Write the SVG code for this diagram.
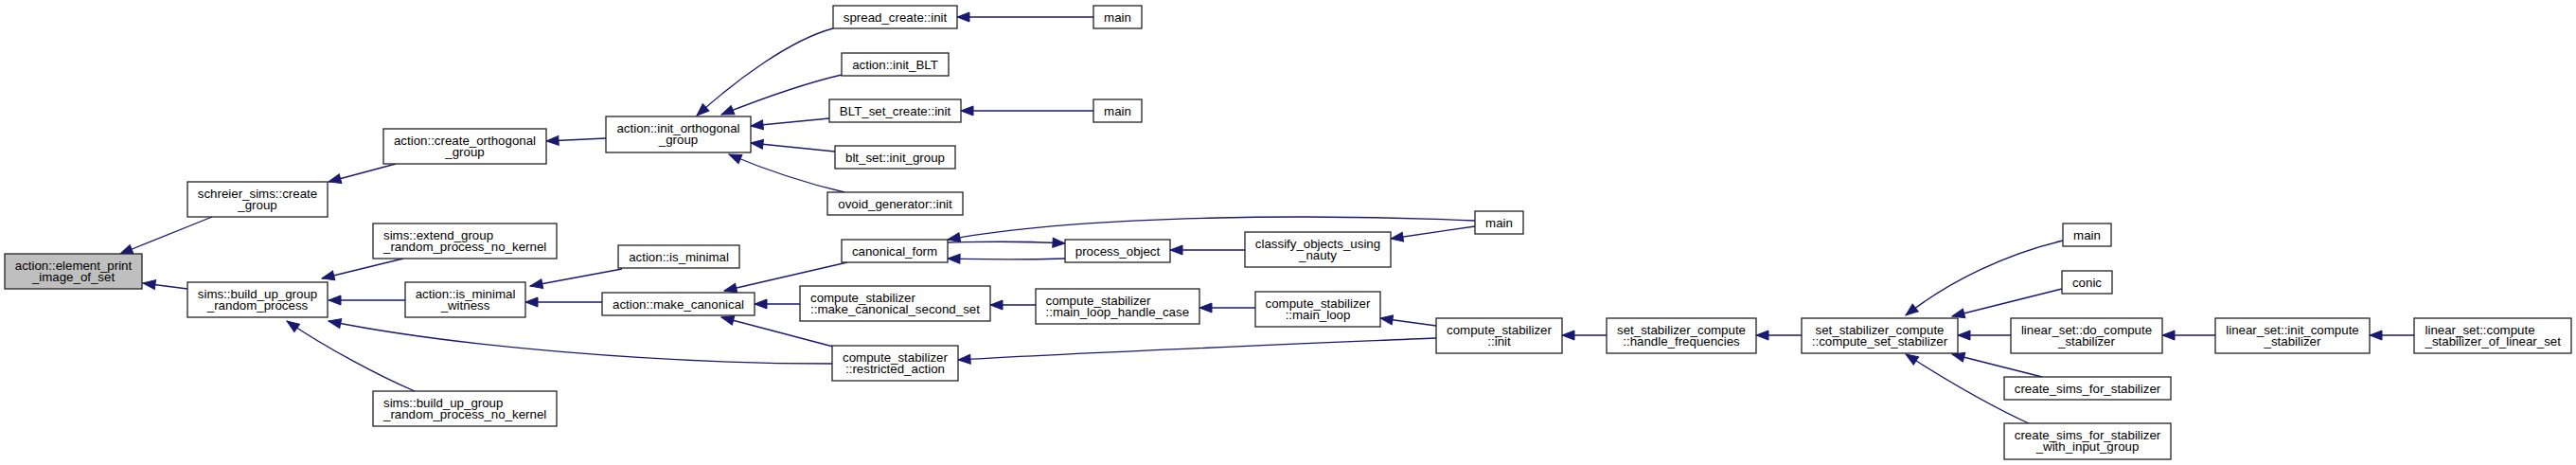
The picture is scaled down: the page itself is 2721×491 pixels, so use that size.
<svg xmlns="http://www.w3.org/2000/svg" width="2721" height="491" viewBox="0 0 2721 491">
<style>
  .n rect { fill: #ffffff; stroke: #222222; stroke-width: 1.3; }
  .root rect { fill: #bfbfbf; }
  text { font-family: "Liberation Sans", Arial, sans-serif; font-size: 13.3px; fill: #000000; }
  .c { text-anchor: middle; }
  .l { text-anchor: start; }
  #edges path { fill: none; stroke: #191970; stroke-width: 1.3; marker-end: url(#ah); }
</style>
<defs>
  <marker id="ah" markerUnits="userSpaceOnUse" viewBox="0 0 15 11" markerWidth="15" markerHeight="11" refX="13" refY="5" orient="auto" overflow="visible">
    <path d="M0,0 L13,5 L0,10 Z" fill="#191970" stroke="#191970" stroke-width="1"/>
  </marker>
</defs>
<rect x="0" y="0" width="2721" height="491" fill="#ffffff"/>
<g id="edges">
  <path d="M224,229 L127,268"/>
  <path d="M198,305 L151,299"/>
  <path d="M418,173 L347,192"/>
  <path d="M640,146 L577,149"/>
  <path d="M880,30 C835,42 778,84 736,122"/>
  <path d="M889,79 C850,88 805,104 762,121"/>
  <path d="M876,125 L793,133"/>
  <path d="M882,160 L793,151"/>
  <path d="M892,203 C858,195 815,182 770,163"/>
  <path d="M1155,18 L1011,18"/>
  <path d="M1155,117 L1015,117"/>
  <path d="M428,317 L347,317"/>
  <path d="M426,273 L340,294"/>
  <path d="M438,413 C405,399 345,368 303,339"/>
  <path d="M879,384 C700,384 480,366 347,339"/>
  <path d="M657,284 L560,302"/>
  <path d="M636,319 L555,319"/>
  <path d="M895,277 L765,307"/>
  <path d="M845,321 L797,321"/>
  <path d="M880,366 L762,335"/>
  <path d="M1001,256 C1040,255 1090,255 1125,257"/>
  <path d="M1125,273 C1090,274 1040,274 1001,273"/>
  <path d="M1558,233 C1400,226 1150,226 1001,253"/>
  <path d="M1315,264 L1236,264"/>
  <path d="M1558,239 L1469,252"/>
  <path d="M1094,322 L1046,322"/>
  <path d="M1326,325 L1267,325"/>
  <path d="M1517,344 L1458,336"/>
  <path d="M1517,357 C1350,364 1150,372 1012,380"/>
  <path d="M1697,354 L1650,354"/>
  <path d="M1903,354 L1855,354"/>
  <path d="M2179,254 C2120,268 2060,296 2013,333"/>
  <path d="M2178,305 L2062,334"/>
  <path d="M2124,354 L2068,354"/>
  <path d="M2157,398 L2062,374"/>
  <path d="M2143,447 C2110,432 2060,404 2013,374"/>
  <path d="M2340,354 L2284,354"/>
  <path d="M2550,354 L2503,354"/>
</g>
<g id="n1" class="n root"><rect x="5" y="268" width="145" height="37"/><text class="c" x="77.5" y="284.5">action::element_print</text><text class="c" x="77.5" y="297">_image_of_set</text></g>
<g id="n2" class="n"><rect x="198" y="192" width="148" height="37"/><text class="c" x="272" y="208.5">schreier_sims::create</text><text class="c" x="272" y="221">_group</text></g>
<g id="n3" class="n"><rect x="198" y="298" width="148" height="37"/><text class="c" x="272" y="314.5">sims::build_up_group</text><text class="c" x="272" y="327">_random_process</text></g>
<g id="n4" class="n"><rect x="405" y="136" width="172" height="37"/><text class="c" x="491" y="152.5">action::create_orthogonal</text><text class="c" x="491" y="165">_group</text></g>
<g id="n5" class="n"><rect x="394" y="236" width="194" height="37"/><text class="l" x="405" y="252.5">sims::extend_group</text><text class="l" x="405" y="265">_random_process_no_kernel</text></g>
<g id="n6" class="n"><rect x="394" y="413" width="194" height="37"/><text class="l" x="405" y="429.5">sims::build_up_group</text><text class="l" x="405" y="442">_random_process_no_kernel</text></g>
<g id="n7" class="n"><rect x="428" y="298" width="127" height="37"/><text class="c" x="491.5" y="314.5">action::is_minimal</text><text class="c" x="491.5" y="327">_witness</text></g>
<g id="n8" class="n"><rect x="653" y="259" width="128" height="24"/><text class="c" x="717" y="276">action::is_minimal</text></g>
<g id="n9" class="n"><rect x="636" y="309" width="161" height="24"/><text class="c" x="716.5" y="325.5">action::make_canonical</text></g>
<g id="n10" class="n"><rect x="640" y="123" width="153" height="38"/><text class="c" x="716.5" y="139.5">action::init_orthogonal</text><text class="c" x="716.5" y="152">_group</text></g>
<g id="n11" class="n"><rect x="880" y="6" width="131" height="24"/><text class="c" x="945.5" y="22.5">spread_create::init</text></g>
<g id="n12" class="n"><rect x="1155" y="6" width="51" height="24"/><text class="c" x="1180.5" y="22.5">main</text></g>
<g id="n13" class="n"><rect x="889" y="56" width="113" height="24"/><text class="c" x="945.5" y="72.5">action::init_BLT</text></g>
<g id="n14" class="n"><rect x="876" y="105" width="139" height="24"/><text class="c" x="945.5" y="121.5">BLT_set_create::init</text></g>
<g id="n15" class="n"><rect x="1155" y="105" width="51" height="24"/><text class="c" x="1180.5" y="121.5">main</text></g>
<g id="n16" class="n"><rect x="882" y="154" width="127" height="24"/><text class="c" x="945.5" y="170.5">blt_set::init_group</text></g>
<g id="n17" class="n"><rect x="874" y="203" width="143" height="24"/><text class="c" x="945.5" y="219.5">ovoid_generator::init</text></g>
<g id="n18" class="n"><rect x="889" y="253" width="112" height="24"/><text class="c" x="945" y="269.5">canonical_form</text></g>
<g id="n19" class="n"><rect x="1125" y="253" width="111" height="24"/><text class="c" x="1180.5" y="269.5">process_object</text></g>
<g id="n20" class="n"><rect x="1315" y="245" width="154" height="37"/><text class="c" x="1392" y="261.5">classify_objects_using</text><text class="c" x="1392" y="274">_nauty</text></g>
<g id="n21" class="n"><rect x="1558" y="223" width="51" height="24"/><text class="c" x="1583.5" y="239.5">main</text></g>
<g id="n22" class="n"><rect x="845" y="302" width="201" height="37"/><text class="l" x="856" y="318.5">compute_stabilizer</text><text class="l" x="856" y="331">::make_canonical_second_set</text></g>
<g id="n23" class="n"><rect x="1094" y="305" width="173" height="37"/><text class="l" x="1104.5" y="321.5">compute_stabilizer</text><text class="l" x="1104.5" y="334">::main_loop_handle_case</text></g>
<g id="n24" class="n"><rect x="1326" y="308" width="132" height="37"/><text class="c" x="1392" y="324.5">compute_stabilizer</text><text class="c" x="1392" y="337">::main_loop</text></g>
<g id="n25" class="n"><rect x="879" y="365" width="133" height="37"/><text class="c" x="945.5" y="381.5">compute_stabilizer</text><text class="c" x="945.5" y="394">::restricted_action</text></g>
<g id="n26" class="n"><rect x="1517" y="336" width="133" height="37"/><text class="c" x="1583.5" y="352.5">compute_stabilizer</text><text class="c" x="1583.5" y="365">::init</text></g>
<g id="n27" class="n"><rect x="1697" y="336" width="158" height="37"/><text class="c" x="1776" y="352.5">set_stabilizer_compute</text><text class="c" x="1776" y="365">::handle_frequencies</text></g>
<g id="n28" class="n"><rect x="1903" y="336" width="165" height="37"/><text class="c" x="1985.5" y="352.5">set_stabilizer_compute</text><text class="c" x="1985.5" y="365">::compute_set_stabilizer</text></g>
<g id="n29" class="n"><rect x="2179" y="236" width="51" height="24"/><text class="c" x="2204.5" y="252.5">main</text></g>
<g id="n30" class="n"><rect x="2178" y="286" width="53" height="24"/><text class="c" x="2204.5" y="302.5">conic</text></g>
<g id="n31" class="n"><rect x="2124" y="336" width="160" height="37"/><text class="c" x="2204" y="352.5">linear_set::do_compute</text><text class="c" x="2204" y="365">_stabilizer</text></g>
<g id="n32" class="n"><rect x="2117" y="398" width="176" height="24"/><text class="c" x="2205" y="414.5">create_sims_for_stabilizer</text></g>
<g id="n33" class="n"><rect x="2117" y="447" width="176" height="38"/><text class="c" x="2205" y="463.5">create_sims_for_stabilizer</text><text class="c" x="2205" y="476">_with_input_group</text></g>
<g id="n34" class="n"><rect x="2340" y="336" width="163" height="37"/><text class="c" x="2421.5" y="352.5">linear_set::init_compute</text><text class="c" x="2421.5" y="365">_stabilizer</text></g>
<g id="n35" class="n"><rect x="2550" y="336" width="166" height="37"/><text class="l" x="2561.5" y="352.5">linear_set::compute</text><text class="l" x="2561.5" y="365">_stabilizer_of_linear_set</text></g>
</svg>
